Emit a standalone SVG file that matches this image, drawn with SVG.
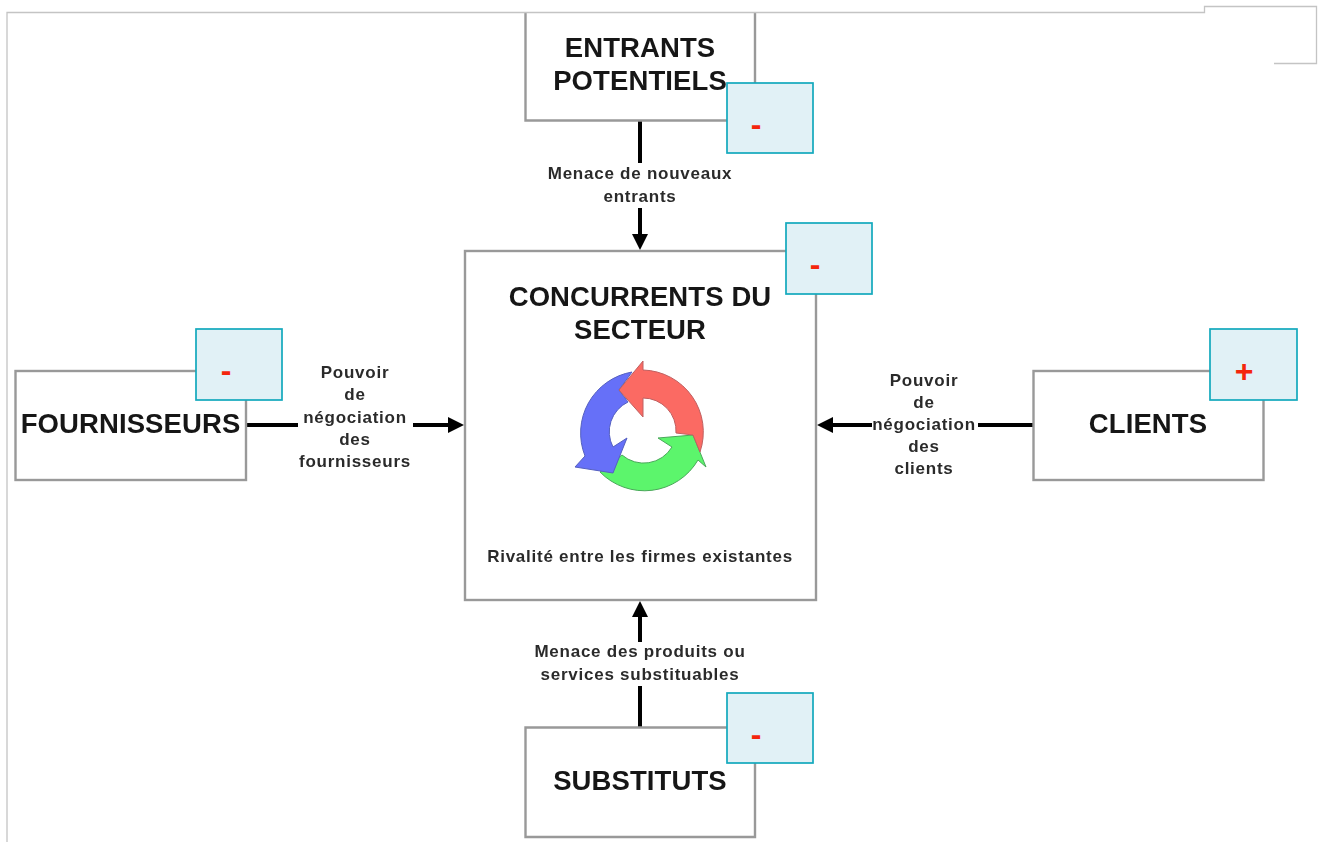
<svg xmlns="http://www.w3.org/2000/svg" width="1320" height="842" viewBox="0 0 1320 842">
<defs>
<style>
.frame{fill:none;stroke:#c4c4c4;stroke-width:1.3}
.box{fill:#fff;stroke:#999;stroke-width:2.4}
.badge{fill:#e1f1f6;stroke:#12a9bd;stroke-width:1.7}
.title{font:bold 27.5px "Liberation Sans",Arial,sans-serif;letter-spacing:.1px;fill:#161616;text-anchor:middle}
.lab{font:bold 17px "Liberation Sans",Arial,sans-serif;letter-spacing:.75px;fill:#2c2c2c;text-anchor:middle}
.sign{font:bold 32px "Liberation Sans",Arial,sans-serif;fill:#f4260c;text-anchor:middle}
.conn{fill:none;stroke:#000;stroke-width:4}
.soft{filter:url(#soft)}
</style>
<filter id="soft" x="-5%" y="-5%" width="110%" height="110%"><feGaussianBlur stdDeviation="0.6"/></filter>
<marker id="arrow" markerUnits="userSpaceOnUse" markerWidth="18" markerHeight="18" refX="10" refY="8" orient="auto"><path d="M0,0L16,8L0,16Z" fill="#000"/></marker>
</defs>
<rect width="1320" height="842" fill="#fff"/>
<g id="connectors" class="soft">
<path class="conn" d="M640,119V163"/>
<path class="conn" d="M640,208V244" marker-end="url(#arrow)"/>
<path class="conn" d="M246,425H298"/>
<path class="conn" d="M413,425H458" marker-end="url(#arrow)"/>
<path class="conn" d="M1035,425H978"/>
<path class="conn" d="M872,425H823" marker-end="url(#arrow)"/>
<path class="conn" d="M640,729V686"/>
<path class="conn" d="M640,642V607" marker-end="url(#arrow)"/>
</g>
<g id="node-entrants" class="soft">
<path class="box" d="M525.500,13V120.500H755V13"/>
<text class="title" x="640" y="57">ENTRANTS</text>
<text class="title" x="640" y="90">POTENTIELS</text>
</g>
<g id="node-concurrents" class="soft">
<rect class="box" x="465" y="251" width="351" height="349"/>
<text class="title" x="640" y="306">CONCURRENTS DU</text>
<text class="title" x="640" y="339">SECTEUR</text>
<g stroke-width="1" stroke-linejoin="round">
<path id="green" fill="#5cf56c" stroke="#4aa85a" d="M706,467L693,435L658,438L672,447A33,33 0 0 1 622,455L600,472A62,62 0 0 0 698,460Z"/>
<path id="blue" fill="#6670f8" stroke="#5560c0" d="M575,467L613,473L627,438L613,447A33,33 0 0 1 628,402L619,390L632,372A62,62 0 0 0 585,456Z"/>
<path id="red" fill="#fb6a64" stroke="#c06060" d="M643,361L619,390L643,417L643,398A33,33 0 0 1 676,433L693,435L700,452A62,62 0 0 0 643,370Z"/>
</g>
<text class="lab" x="640" y="562">Rivalité entre les firmes existantes</text>
</g>
<g id="node-fournisseurs" class="soft">
<rect class="box" x="15.500" y="371" width="230.500" height="109"/>
<text class="title" x="130.500" y="433">FOURNISSEURS</text>
</g>
<g id="node-clients" class="soft">
<rect class="box" x="1033.500" y="371" width="230" height="109"/>
<text class="title" x="1148" y="433">CLIENTS</text>
</g>
<g id="node-substituts" class="soft">
<path class="box" d="M525.500,837V727.500H755V837Z"/>
<text class="title" x="640" y="790">SUBSTITUTS</text>
</g>
<g id="labels" class="soft">
<text class="lab" x="640" y="179">Menace de nouveaux</text>
<text class="lab" x="640" y="202">entrants</text>
<text class="lab" x="355" y="378">Pouvoir</text>
<text class="lab" x="355" y="400">de</text>
<text class="lab" x="355" y="423">négociation</text>
<text class="lab" x="355" y="445">des</text>
<text class="lab" x="355" y="467">fournisseurs</text>
<text class="lab" x="924" y="386">Pouvoir</text>
<text class="lab" x="924" y="408">de</text>
<text class="lab" x="924" y="430">négociation</text>
<text class="lab" x="924" y="452">des</text>
<text class="lab" x="924" y="474">clients</text>
<text class="lab" x="640" y="657">Menace des produits ou</text>
<text class="lab" x="640" y="680">services substituables</text>
</g>
<path class="frame" d="M7,842V12.500H1204.500V6.500H1316.500V63.500H1274"/>
<g id="badge-entrants"><rect class="badge" x="727" y="83" width="86" height="70"/><text class="sign" x="756" y="135">-</text></g>
<g id="badge-concurrents"><rect class="badge" x="786" y="223" width="86" height="71"/><text class="sign" x="815" y="275">-</text></g>
<g id="badge-fournisseurs"><rect class="badge" x="196" y="329" width="86" height="71"/><text class="sign" x="226" y="381">-</text></g>
<g id="badge-clients"><rect class="badge" x="1210" y="329" width="87" height="71"/><text class="sign" x="1244" y="382">+</text></g>
<g id="badge-substituts"><rect class="badge" x="727" y="693" width="86" height="70"/><text class="sign" x="756" y="745">-</text></g>
</svg>
